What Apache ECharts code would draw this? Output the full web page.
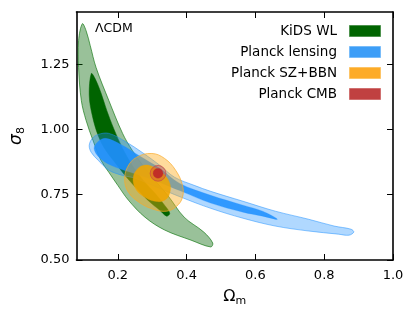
<!DOCTYPE html>
<html><head><meta charset="utf-8">
<script src="https://cdn.jsdelivr.net/npm/echarts@6/dist/echarts.min.js"></script>
<style>html,body{margin:0;padding:0;background:#fff}#c{width:415px;height:317px}</style>
</head><body><div id="c"></div>
<script>
// axis ticks
const xTicks = [0.2, 0.4, 0.6, 0.8, 1.0];
const yTicks = [0.50, 0.75, 1.00, 1.25];
const legendNames = ['KiDS WL', 'Planck lensing', 'Planck SZ+BBN', 'Planck CMB'];
const modelLabel = 'ΛCDM';

// contour outlines [Omega_m, sigma_8]
const kids95 = [[0.097,1.405],[0.086,1.340],[0.086,1.237],[0.094,1.111],[0.108,1.034],[0.128,0.958],[0.151,0.882],[0.174,0.836],[0.200,0.786],[0.231,0.729],[0.279,0.664],[0.336,0.615],[0.413,0.576],[0.470,0.550],[0.476,0.565],[0.450,0.607],[0.393,0.664],[0.345,0.748],[0.308,0.805],[0.279,0.851],[0.242,0.920],[0.214,0.985],[0.174,1.111],[0.137,1.237],[0.120,1.321],[0.108,1.378]];
const kids68 = [[0.123,1.214],[0.117,1.130],[0.126,1.053],[0.143,0.977],[0.165,0.920],[0.194,0.870],[0.228,0.813],[0.265,0.760],[0.294,0.721],[0.322,0.691],[0.342,0.668],[0.351,0.679],[0.336,0.710],[0.308,0.756],[0.274,0.805],[0.242,0.863],[0.214,0.927],[0.188,1.004],[0.168,1.073],[0.151,1.141],[0.134,1.195]];
const lens95 = [[0.117,0.939],[0.126,0.966],[0.143,0.981],[0.174,0.985],[0.222,0.954],[0.271,0.912],[0.322,0.863],[0.365,0.817],[0.422,0.786],[0.470,0.763],[0.564,0.725],[0.658,0.687],[0.755,0.656],[0.829,0.630],[0.878,0.618],[0.886,0.607],[0.872,0.595],[0.841,0.599],[0.755,0.611],[0.658,0.630],[0.564,0.660],[0.470,0.698],[0.385,0.740],[0.308,0.782],[0.251,0.813],[0.214,0.824],[0.174,0.844],[0.143,0.882],[0.123,0.912]];
const lens68 = [[0.131,0.927],[0.143,0.954],[0.165,0.966],[0.208,0.943],[0.265,0.897],[0.322,0.851],[0.379,0.794],[0.470,0.748],[0.564,0.710],[0.621,0.687],[0.664,0.656],[0.621,0.668],[0.564,0.683],[0.470,0.718],[0.385,0.763],[0.308,0.805],[0.237,0.836],[0.180,0.863],[0.146,0.893]];
const sz95 = [[0.299,0.908],[0.336,0.889],[0.368,0.844],[0.388,0.786],[0.388,0.740],[0.371,0.706],[0.342,0.687],[0.302,0.695],[0.262,0.721],[0.231,0.760],[0.220,0.805],[0.228,0.855],[0.254,0.893]];
const sz68 = [[0.259,0.851],[0.245,0.817],[0.251,0.775],[0.274,0.744],[0.308,0.725],[0.336,0.729],[0.351,0.756],[0.351,0.794],[0.331,0.832],[0.299,0.859],[0.276,0.863]];
const cmbCenter = [0.317, 0.832];
const cmb95Radius = [0.023, 0.030];
const cmb68Radius = [0.014, 0.019];

const FONT = 'DejaVu Sans';
const chart = echarts.init(document.getElementById('c'), null, {renderer: 'canvas'});

function poly(points, fill, stroke, lw, smooth) {
  return {
    type: 'custom', coordinateSystem: 'cartesian2d', silent: true, clip: true,
    data: points,
    renderItem: function (params, api) {
      if (params.dataIndex !== 0) return null;
      return {
        type: 'polygon',
        shape: {points: points.map(p => api.coord(p)), smooth: smooth},
        style: {fill: fill, stroke: stroke, lineWidth: lw}
      };
    }
  };
}
function disc(center, radius, fill, stroke, lw) {
  return {
    type: 'custom', coordinateSystem: 'cartesian2d', silent: true, clip: true,
    data: [center],
    renderItem: function (params, api) {
      const c = api.coord(center);
      const s = api.size(radius);
      return {type: 'circle', shape: {cx: c[0], cy: c[1], r: (s[0] + s[1]) / 2},
        style: {fill: fill, stroke: stroke, lineWidth: lw}};
    }
  };
}

const legendColors = ['#006400', '#3d9ef7', '#fdab27', '#c04040'];
const legendStrokes = ['#4d924d', '#79bcf9', '#fdc466', '#d07070'];
const graphics = [{
  type: 'text', left: 95, top: 22,
  style: {text: modelLabel, fontSize: 12.5, fontFamily: FONT, fill: '#000'}
}];
legendNames.forEach((n, i) => {
  const yc = 31 + i * 21;
  graphics.push({type: 'text', x: 337, y: yc,
    style: {text: n, fontSize: 13.5, fontFamily: FONT, fill: '#000', align: 'right', verticalAlign: 'middle'}});
  graphics.push({type: 'rect', shape: {x: 349.5, y: yc - 5.5, width: 31, height: 11},
    style: {fill: legendColors[i], stroke: legendStrokes[i], lineWidth: 1}});
});

const axisLine = {show: true, onZero: false, lineStyle: {color: '#000', width: 1.6}};
const option = {
  animation: false,
  backgroundColor: '#fff',
  grid: {left: 70, right: 22, top: 12, bottom: 57, containLabel: false},
  xAxis: [{
    type: 'value', min: 0.08, max: 1.0, position: 'bottom',
    axisLine: axisLine,
    axisTick: {show: true, inside: true, length: 6, customValues: xTicks, lineStyle: {color: '#000', width: 1}},
    axisLabel: {customValues: xTicks, formatter: v => v.toFixed(1), color: '#000', fontSize: 13, fontFamily: FONT, margin: 9},
    splitLine: {show: false},
    name: '{a|Ω}{b|m}', nameLocation: 'middle', nameGap: 27,
    nameTextStyle: {rich: {
      a: {fontSize: 16, fontFamily: FONT, color: '#000', lineHeight: 20},
      b: {fontSize: 11, fontFamily: FONT, color: '#000', lineHeight: 10, verticalAlign: 'bottom'}
    }}
  }, {
    type: 'value', min: 0.08, max: 1.0, position: 'top',
    axisLine: axisLine,
    axisTick: {show: true, inside: true, length: 6, customValues: xTicks, lineStyle: {color: '#000', width: 1}},
    axisLabel: {show: false}, splitLine: {show: false}
  }],
  yAxis: [{
    type: 'value', min: 0.5, max: 1.45, position: 'left',
    axisLine: axisLine,
    axisTick: {show: true, inside: true, length: 6, customValues: yTicks, lineStyle: {color: '#000', width: 1}},
    axisLabel: {customValues: yTicks, formatter: v => v.toFixed(2), color: '#000', fontSize: 13, fontFamily: FONT, margin: 7},
    splitLine: {show: false},
    name: '{a|σ}{b|8}', nameLocation: 'middle', nameGap: 50, nameRotate: 90,
    nameTextStyle: {rich: {
      a: {fontSize: 17, fontFamily: FONT, fontStyle: 'italic', color: '#000', lineHeight: 20},
      b: {fontSize: 11, fontFamily: FONT, color: '#000', lineHeight: 10, verticalAlign: 'bottom'}
    }}
  }, {
    type: 'value', min: 0.5, max: 1.45, position: 'right',
    axisLine: axisLine,
    axisTick: {show: true, inside: true, length: 6, customValues: yTicks, lineStyle: {color: '#000', width: 1}},
    axisLabel: {show: false}, splitLine: {show: false}
  }],
  graphic: graphics,
  series: [
    poly(kids95, 'rgba(0,100,0,0.4)', 'rgba(0,110,0,0.6)', 1, 0.35),
    poly(kids68, 'rgba(0,100,0,1)', 'rgba(0,100,0,1)', 0.5, 0.35),
    poly(lens95, 'rgba(30,144,255,0.35)', 'rgba(30,144,255,0.5)', 1, 0.35),
    poly(lens68, 'rgba(30,144,255,0.88)', 'rgba(30,144,255,0.5)', 0.5, 0.35),
    poly(sz95, 'rgba(255,170,20,0.42)', 'rgba(250,170,40,0.7)', 1, 0.4),
    poly(sz68, 'rgba(240,165,0,0.88)', 'rgba(240,165,0,0.6)', 0.5, 0.4),
    disc(cmbCenter, cmb95Radius, 'rgba(205,60,60,0.35)', 'rgba(205,70,70,0.7)', 1),
    disc(cmbCenter, cmb68Radius, 'rgba(190,40,40,0.92)', 'rgba(190,40,40,0.6)', 0.5)
  ]
};
chart.setOption(option);
</script>
</body></html>
